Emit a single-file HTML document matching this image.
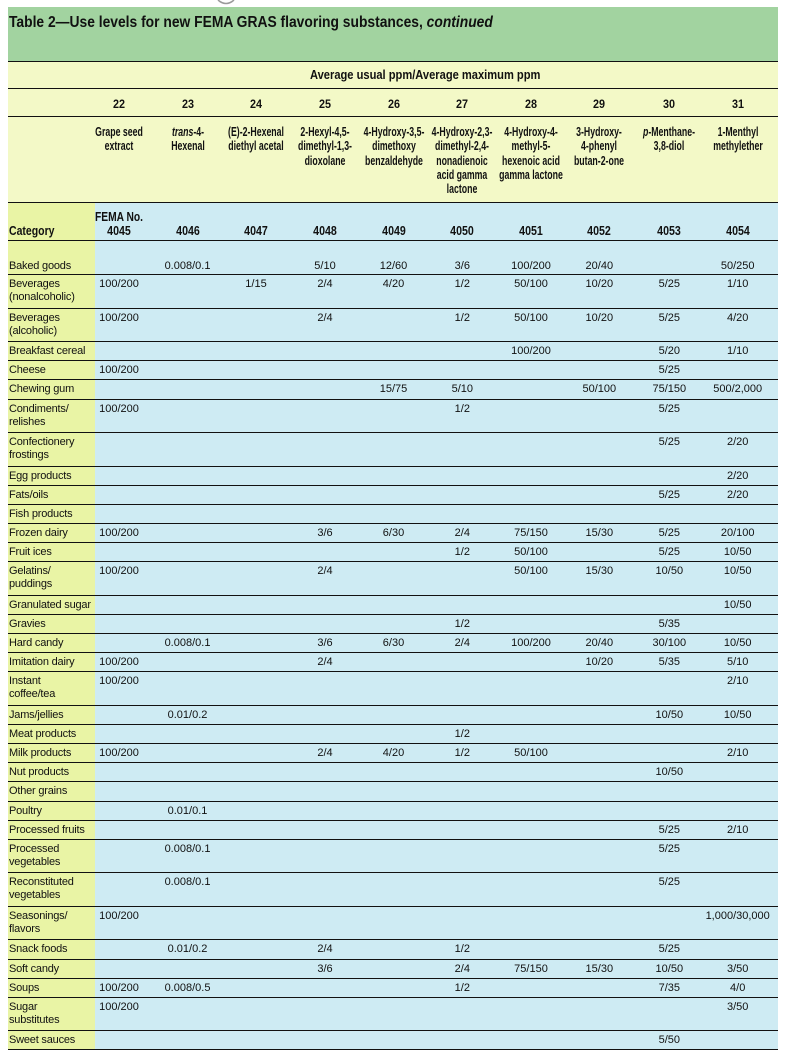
<!DOCTYPE html>
<html>
<head>
<meta charset="utf-8">
<style>
*{margin:0;padding:0;box-sizing:border-box;}
html,body{width:790px;height:1056px;overflow:hidden;background:#fff;}
body{position:relative;font-family:"Liberation Sans",Arial,sans-serif;color:#111;}
.a{position:absolute;}
.ln{position:absolute;left:8px;width:770px;height:1px;background:#111;}
.b{font-weight:bold;white-space:nowrap;line-height:1;}
.nm{position:absolute;width:120px;text-align:center;font-weight:bold;font-size:12.5px;line-height:14.3px;white-space:nowrap;transform:scaleX(0.70);transform-origin:center top;top:125.2px;}
.num{position:absolute;width:60px;text-align:center;font-weight:bold;font-size:12px;line-height:1;white-space:nowrap;transform:scaleX(0.9);transform-origin:center top;top:97.5px;}
.fm{position:absolute;width:60px;text-align:center;font-weight:bold;font-size:12.5px;line-height:1;white-space:nowrap;transform:scaleX(0.85);transform-origin:center top;top:225.1px;}
.cat{position:absolute;left:9px;font-size:11px;line-height:13.3px;letter-spacing:-0.2px;white-space:nowrap;}
.v{position:absolute;width:80px;text-align:center;font-size:11px;line-height:13.3px;white-space:nowrap;}
.c0{left:79px}.c1{left:147.5px}.c2{left:216px}.c3{left:285px}.c4{left:353.5px}
.c5{left:422.3px}.c6{left:491px}.c7{left:559.3px}.c8{left:629.3px}.c9{left:697.7px}
</style>
</head>
<body>
<svg class="a" style="left:0;top:0" width="790" height="10"><path d="M218,0 Q226,7 234,0" fill="none" stroke="#9a9a9a" stroke-width="1.5"/></svg>

<!-- backgrounds -->
<div class="a" style="left:8px;top:7px;width:770px;height:54px;background:#a2d3a0;"></div>
<div class="a" style="left:8px;top:61px;width:770px;height:141px;background:#f3f9c7;"></div>
<div class="a" style="left:8px;top:202px;width:87px;height:847px;background:#e9f4a5;"></div>
<div class="a" style="left:95px;top:202px;width:683px;height:847px;background:#ceebf3;"></div>

<!-- lines -->
<div class="ln" style="top:61px"></div>
<div class="ln" style="top:88px"></div>
<div class="ln" style="top:116px"></div>
<div class="ln" style="top:202px"></div>
<div class="ln" style="top:240px"></div>
<div class="ln" style="top:274px"></div>
<div class="ln" style="top:308px"></div>
<div class="ln" style="top:341px"></div>
<div class="ln" style="top:360px"></div>
<div class="ln" style="top:379px"></div>
<div class="ln" style="top:399px"></div>
<div class="ln" style="top:432px"></div>
<div class="ln" style="top:466px"></div>
<div class="ln" style="top:485px"></div>
<div class="ln" style="top:504px"></div>
<div class="ln" style="top:523px"></div>
<div class="ln" style="top:542px"></div>
<div class="ln" style="top:561px"></div>
<div class="ln" style="top:595px"></div>
<div class="ln" style="top:614px"></div>
<div class="ln" style="top:633px"></div>
<div class="ln" style="top:652px"></div>
<div class="ln" style="top:671px"></div>
<div class="ln" style="top:705px"></div>
<div class="ln" style="top:724px"></div>
<div class="ln" style="top:743px"></div>
<div class="ln" style="top:762px"></div>
<div class="ln" style="top:781px"></div>
<div class="ln" style="top:801px"></div>
<div class="ln" style="top:820px"></div>
<div class="ln" style="top:839px"></div>
<div class="ln" style="top:872px"></div>
<div class="ln" style="top:906px"></div>
<div class="ln" style="top:939px"></div>
<div class="ln" style="top:959px"></div>
<div class="ln" style="top:978px"></div>
<div class="ln" style="top:997px"></div>
<div class="ln" style="top:1030px"></div>
<div class="ln" style="top:1049px"></div>

<!-- title -->
<div class="a b" style="left:9px;top:14.9px;font-size:15.5px;transform:scaleX(0.893);transform-origin:left top;">Table 2—Use levels for new FEMA GRAS flavoring substances, <i>continued</i></div>

<div class="a b" style="left:310px;top:69.4px;font-size:12.5px;transform:scaleX(0.89);transform-origin:left top;">Average usual ppm/Average maximum ppm</div>

<!-- column numbers -->
<div class="num" style="left:89px">22</div>
<div class="num" style="left:157.5px">23</div>
<div class="num" style="left:226px">24</div>
<div class="num" style="left:295px">25</div>
<div class="num" style="left:363.5px">26</div>
<div class="num" style="left:432.3px">27</div>
<div class="num" style="left:501px">28</div>
<div class="num" style="left:569.3px">29</div>
<div class="num" style="left:639.3px">30</div>
<div class="num" style="left:707.7px">31</div>

<!-- names -->
<div class="nm" style="left:59px">Grape seed<br>extract</div>
<div class="nm" style="left:127.5px"><i>trans</i>-4-<br>Hexenal</div>
<div class="nm" style="left:196px">(E)-2-Hexenal<br>diethyl acetal</div>
<div class="nm" style="left:265px">2-Hexyl-4,5-<br>dimethyl-1,3-<br>dioxolane</div>
<div class="nm" style="left:333.5px">4-Hydroxy-3,5-<br>dimethoxy<br>benzaldehyde</div>
<div class="nm" style="left:402.3px">4-Hydroxy-2,3-<br>dimethyl-2,4-<br>nonadienoic<br>acid gamma<br>lactone</div>
<div class="nm" style="left:471px">4-Hydroxy-4-<br>methyl-5-<br>hexenoic acid<br>gamma lactone</div>
<div class="nm" style="left:539.3px">3-Hydroxy-<br>4-phenyl<br>butan-2-one</div>
<div class="nm" style="left:609.3px"><i>p</i>-Menthane-<br>3,8-diol</div>
<div class="nm" style="left:677.7px">1-Menthyl<br>methylether</div>

<!-- FEMA row -->
<div class="a b" style="left:95px;top:211.1px;font-size:12.5px;transform:scaleX(0.82);transform-origin:left top;">FEMA No.</div>
<div class="a b" style="left:9px;top:225.1px;font-size:12.5px;transform:scaleX(0.84);transform-origin:left top;">Category</div>
<div class="fm" style="left:89px">4045</div>
<div class="fm" style="left:157.5px">4046</div>
<div class="fm" style="left:226px">4047</div>
<div class="fm" style="left:295px">4048</div>
<div class="fm" style="left:363.5px">4049</div>
<div class="fm" style="left:432.3px">4050</div>
<div class="fm" style="left:501px">4051</div>
<div class="fm" style="left:569.3px">4052</div>
<div class="fm" style="left:639.3px">4053</div>
<div class="fm" style="left:707.7px">4054</div>

<!-- rows -->
<div class="cat" style="top:259.5px">Baked goods</div>
<div class="v c1" style="top:259.5px">0.008/0.1</div>
<div class="v c3" style="top:259.5px">5/10</div>
<div class="v c4" style="top:259.5px">12/60</div>
<div class="v c5" style="top:259.5px">3/6</div>
<div class="v c6" style="top:259.5px">100/200</div>
<div class="v c7" style="top:259.5px">20/40</div>
<div class="v c9" style="top:259.5px">50/250</div>

<div class="cat" style="top:278px">Beverages<br>(nonalcoholic)</div>
<div class="v c0" style="top:278px">100/200</div>
<div class="v c2" style="top:278px">1/15</div>
<div class="v c3" style="top:278px">2/4</div>
<div class="v c4" style="top:278px">4/20</div>
<div class="v c5" style="top:278px">1/2</div>
<div class="v c6" style="top:278px">50/100</div>
<div class="v c7" style="top:278px">10/20</div>
<div class="v c8" style="top:278px">5/25</div>
<div class="v c9" style="top:278px">1/10</div>

<div class="cat" style="top:312px">Beverages<br>(alcoholic)</div>
<div class="v c0" style="top:312px">100/200</div>
<div class="v c3" style="top:312px">2/4</div>
<div class="v c5" style="top:312px">1/2</div>
<div class="v c6" style="top:312px">50/100</div>
<div class="v c7" style="top:312px">10/20</div>
<div class="v c8" style="top:312px">5/25</div>
<div class="v c9" style="top:312px">4/20</div>

<div class="cat" style="top:345px">Breakfast cereal</div>
<div class="v c6" style="top:345px">100/200</div>
<div class="v c8" style="top:345px">5/20</div>
<div class="v c9" style="top:345px">1/10</div>

<div class="cat" style="top:364px">Cheese</div>
<div class="v c0" style="top:364px">100/200</div>
<div class="v c8" style="top:364px">5/25</div>

<div class="cat" style="top:383px">Chewing gum</div>
<div class="v c4" style="top:383px">15/75</div>
<div class="v c5" style="top:383px">5/10</div>
<div class="v c7" style="top:383px">50/100</div>
<div class="v c8" style="top:383px">75/150</div>
<div class="v c9" style="top:383px">500/2,000</div>

<div class="cat" style="top:403px">Condiments/<br>relishes</div>
<div class="v c0" style="top:403px">100/200</div>
<div class="v c5" style="top:403px">1/2</div>
<div class="v c8" style="top:403px">5/25</div>

<div class="cat" style="top:436px">Confectionery<br>frostings</div>
<div class="v c8" style="top:436px">5/25</div>
<div class="v c9" style="top:436px">2/20</div>

<div class="cat" style="top:470px">Egg products</div>
<div class="v c9" style="top:470px">2/20</div>

<div class="cat" style="top:489px">Fats/oils</div>
<div class="v c8" style="top:489px">5/25</div>
<div class="v c9" style="top:489px">2/20</div>

<div class="cat" style="top:508px">Fish products</div>

<div class="cat" style="top:527px">Frozen dairy</div>
<div class="v c0" style="top:527px">100/200</div>
<div class="v c3" style="top:527px">3/6</div>
<div class="v c4" style="top:527px">6/30</div>
<div class="v c5" style="top:527px">2/4</div>
<div class="v c6" style="top:527px">75/150</div>
<div class="v c7" style="top:527px">15/30</div>
<div class="v c8" style="top:527px">5/25</div>
<div class="v c9" style="top:527px">20/100</div>

<div class="cat" style="top:546px">Fruit ices</div>
<div class="v c5" style="top:546px">1/2</div>
<div class="v c6" style="top:546px">50/100</div>
<div class="v c8" style="top:546px">5/25</div>
<div class="v c9" style="top:546px">10/50</div>

<div class="cat" style="top:565px">Gelatins/<br>puddings</div>
<div class="v c0" style="top:565px">100/200</div>
<div class="v c3" style="top:565px">2/4</div>
<div class="v c6" style="top:565px">50/100</div>
<div class="v c7" style="top:565px">15/30</div>
<div class="v c8" style="top:565px">10/50</div>
<div class="v c9" style="top:565px">10/50</div>

<div class="cat" style="top:599px">Granulated sugar</div>
<div class="v c9" style="top:599px">10/50</div>

<div class="cat" style="top:618px">Gravies</div>
<div class="v c5" style="top:618px">1/2</div>
<div class="v c8" style="top:618px">5/35</div>

<div class="cat" style="top:637px">Hard candy</div>
<div class="v c1" style="top:637px">0.008/0.1</div>
<div class="v c3" style="top:637px">3/6</div>
<div class="v c4" style="top:637px">6/30</div>
<div class="v c5" style="top:637px">2/4</div>
<div class="v c6" style="top:637px">100/200</div>
<div class="v c7" style="top:637px">20/40</div>
<div class="v c8" style="top:637px">30/100</div>
<div class="v c9" style="top:637px">10/50</div>

<div class="cat" style="top:656px">Imitation dairy</div>
<div class="v c0" style="top:656px">100/200</div>
<div class="v c3" style="top:656px">2/4</div>
<div class="v c7" style="top:656px">10/20</div>
<div class="v c8" style="top:656px">5/35</div>
<div class="v c9" style="top:656px">5/10</div>

<div class="cat" style="top:675px">Instant<br>coffee/tea</div>
<div class="v c0" style="top:675px">100/200</div>
<div class="v c9" style="top:675px">2/10</div>

<div class="cat" style="top:709px">Jams/jellies</div>
<div class="v c1" style="top:709px">0.01/0.2</div>
<div class="v c8" style="top:709px">10/50</div>
<div class="v c9" style="top:709px">10/50</div>

<div class="cat" style="top:728px">Meat products</div>
<div class="v c5" style="top:728px">1/2</div>

<div class="cat" style="top:747px">Milk products</div>
<div class="v c0" style="top:747px">100/200</div>
<div class="v c3" style="top:747px">2/4</div>
<div class="v c4" style="top:747px">4/20</div>
<div class="v c5" style="top:747px">1/2</div>
<div class="v c6" style="top:747px">50/100</div>
<div class="v c9" style="top:747px">2/10</div>

<div class="cat" style="top:766px">Nut products</div>
<div class="v c8" style="top:766px">10/50</div>

<div class="cat" style="top:785px">Other grains</div>

<div class="cat" style="top:805px">Poultry</div>
<div class="v c1" style="top:805px">0.01/0.1</div>

<div class="cat" style="top:824px">Processed fruits</div>
<div class="v c8" style="top:824px">5/25</div>
<div class="v c9" style="top:824px">2/10</div>

<div class="cat" style="top:843px">Processed<br>vegetables</div>
<div class="v c1" style="top:843px">0.008/0.1</div>
<div class="v c8" style="top:843px">5/25</div>

<div class="cat" style="top:876px">Reconstituted<br>vegetables</div>
<div class="v c1" style="top:876px">0.008/0.1</div>
<div class="v c8" style="top:876px">5/25</div>

<div class="cat" style="top:910px">Seasonings/<br>flavors</div>
<div class="v c0" style="top:910px">100/200</div>
<div class="v c9" style="top:910px">1,000/30,000</div>

<div class="cat" style="top:943px">Snack foods</div>
<div class="v c1" style="top:943px">0.01/0.2</div>
<div class="v c3" style="top:943px">2/4</div>
<div class="v c5" style="top:943px">1/2</div>
<div class="v c8" style="top:943px">5/25</div>

<div class="cat" style="top:963px">Soft candy</div>
<div class="v c3" style="top:963px">3/6</div>
<div class="v c5" style="top:963px">2/4</div>
<div class="v c6" style="top:963px">75/150</div>
<div class="v c7" style="top:963px">15/30</div>
<div class="v c8" style="top:963px">10/50</div>
<div class="v c9" style="top:963px">3/50</div>

<div class="cat" style="top:982px">Soups</div>
<div class="v c0" style="top:982px">100/200</div>
<div class="v c1" style="top:982px">0.008/0.5</div>
<div class="v c5" style="top:982px">1/2</div>
<div class="v c8" style="top:982px">7/35</div>
<div class="v c9" style="top:982px">4/0</div>

<div class="cat" style="top:1001px">Sugar<br>substitutes</div>
<div class="v c0" style="top:1001px">100/200</div>
<div class="v c9" style="top:1001px">3/50</div>

<div class="cat" style="top:1034px">Sweet sauces</div>
<div class="v c8" style="top:1034px">5/50</div>
</body>
</html>
